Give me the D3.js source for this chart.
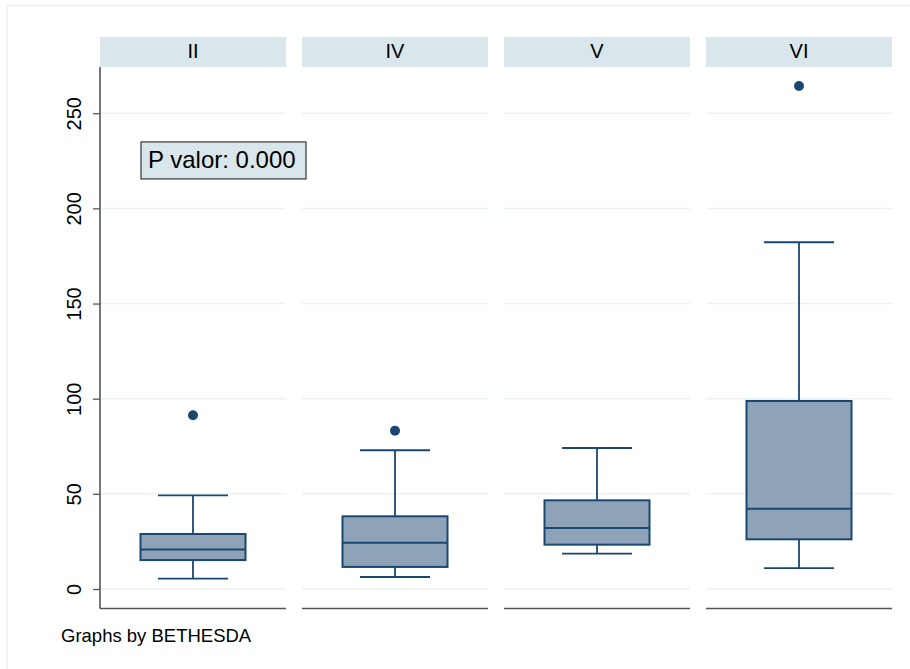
<!DOCTYPE html>
<html>
<head>
<meta charset="utf-8">
<script src="https://cdn.jsdelivr.net/npm/d3@7"></script>
<style>
  body { margin: 0; background: #ffffff; }
  text { font-family: "Liberation Sans", Arial, Helvetica, sans-serif; fill: #000000; }
</style>
</head>
<body>
<div id="vis-box"></div>
<script>
// Data --------------------------------------------------------------------------------------------------------------
const groups = ["II", "IV", "V", "VI"];
const lowerWhisker = [5.4, 6.3, 18.6, 11.0];
const quartile1 = [15.2, 11.6, 23.3, 26.1];
const medians = [20.7, 24.3, 32.1, 42.2];
const quartile3 = [28.9, 38.2, 46.6, 98.8];
const upperWhisker = [49.2, 72.9, 74.1, 182.2];
const outliers = [[91.3], [83.2], [], [264.3]];
const yTicks = [0, 50, 100, 150, 200, 250];
const pLabel = "P valor: 0.000";
const caption = "Graphs by BETHESDA";

// Canvas ------------------------------------------------------------------------------------------------------------
const canvasWidth = 910;
const canvasHeight = 669;

const plotTop = 67;
const plotBottom = 608.5;
const stripTop = 37;
const panelLeft = 100;
const panelWidth = 186;
const panelGap = 16;

const boxWidth = 105;
const capWidth = 70;

const navy = "#1a476f";
const boxFill = "#8ea3b8";
const gridColor = "#eaf2f3";
const stripColor = "#d9e6ec";

const svg = d3.select("#vis-box")
  .append("svg")
  .attr("width", canvasWidth)
  .attr("height", canvasHeight)
  .attr("viewBox", [0, 0, canvasWidth, canvasHeight]);

// Outer frame (only top and left visible)
svg.append("path")
  .attr("d", "M7,669 L7,5.5 L910,5.5")
  .attr("fill", "none")
  .attr("stroke", gridColor)
  .attr("stroke-width", 1.5);

// Scales ------------------------------------------------------------------------------------------------------------
const xPanel = d3.scaleBand()
  .domain(groups)
  .range([panelLeft, panelLeft + groups.length * panelWidth + (groups.length - 1) * panelGap])
  .paddingInner(panelGap / (panelWidth + panelGap))
  .paddingOuter(0);

const yScale = d3.scaleLinear()
  .domain([-10.25, 274.3])
  .range([plotBottom, plotTop]);

const rows = groups.map((g, i) => ({
  group: g,
  lo: lowerWhisker[i],
  q1: quartile1[i],
  med: medians[i],
  q3: quartile3[i],
  hi: upperWhisker[i],
  out: outliers[i]
}));

// Panels ------------------------------------------------------------------------------------------------------------
const panels = svg.selectAll("g.panel")
  .data(rows)
  .join("g")
  .attr("class", "panel")
  .attr("transform", d => "translate(" + xPanel(d.group) + ",0)");

// strip headers
panels.append("rect")
  .attr("x", 0)
  .attr("y", stripTop)
  .attr("width", xPanel.bandwidth())
  .attr("height", plotTop - stripTop)
  .attr("fill", stripColor);

panels.append("text")
  .attr("x", xPanel.bandwidth() / 2)
  .attr("y", 57.5)
  .attr("text-anchor", "middle")
  .style("font-size", "20px")
  .text(d => d.group);

// gridlines
panels.selectAll("line.grid")
  .data(yTicks)
  .join("line")
  .attr("class", "grid")
  .attr("x1", 0)
  .attr("x2", xPanel.bandwidth())
  .attr("y1", d => yScale(d))
  .attr("y2", d => yScale(d))
  .attr("stroke", gridColor)
  .attr("stroke-width", 1.5);

// bottom axis line per panel
panels.append("line")
  .attr("x1", 0)
  .attr("x2", xPanel.bandwidth())
  .attr("y1", plotBottom)
  .attr("y2", plotBottom)
  .attr("stroke", "#555555")
  .attr("stroke-width", 1.6);

// Boxes -------------------------------------------------------------------------------------------------------------
const cx = xPanel.bandwidth() / 2;

// whiskers
panels.append("line")
  .attr("x1", cx).attr("x2", cx)
  .attr("y1", d => yScale(d.hi))
  .attr("y2", d => yScale(d.q3))
  .attr("stroke", navy)
  .attr("stroke-width", 1.8);

panels.append("line")
  .attr("x1", cx).attr("x2", cx)
  .attr("y1", d => yScale(d.q1))
  .attr("y2", d => yScale(d.lo))
  .attr("stroke", navy)
  .attr("stroke-width", 1.8);

panels.append("line")
  .attr("x1", cx - capWidth / 2).attr("x2", cx + capWidth / 2)
  .attr("y1", d => yScale(d.hi))
  .attr("y2", d => yScale(d.hi))
  .attr("stroke", navy)
  .attr("stroke-width", 1.8);

panels.append("line")
  .attr("x1", cx - capWidth / 2).attr("x2", cx + capWidth / 2)
  .attr("y1", d => yScale(d.lo))
  .attr("y2", d => yScale(d.lo))
  .attr("stroke", navy)
  .attr("stroke-width", 1.8);

// box
panels.append("rect")
  .attr("x", cx - boxWidth / 2)
  .attr("width", boxWidth)
  .attr("y", d => yScale(d.q3))
  .attr("height", d => yScale(d.q1) - yScale(d.q3))
  .attr("fill", boxFill)
  .attr("stroke", navy)
  .attr("stroke-width", 2);

// median
panels.append("line")
  .attr("x1", cx - boxWidth / 2).attr("x2", cx + boxWidth / 2)
  .attr("y1", d => yScale(d.med))
  .attr("y2", d => yScale(d.med))
  .attr("stroke", navy)
  .attr("stroke-width", 2);

// outliers
panels.selectAll("circle.out")
  .data(d => d.out)
  .join("circle")
  .attr("class", "out")
  .attr("cx", cx)
  .attr("cy", d => yScale(d))
  .attr("r", 5)
  .attr("fill", navy);

// Y axis ------------------------------------------------------------------------------------------------------------
const yAxis = svg.append("g")
  .attr("transform", "translate(" + panelLeft + ",0)")
  .call(d3.axisLeft(yScale).tickValues(yTicks).tickSize(7).tickPadding(8).tickSizeOuter(0));

yAxis.select(".domain")
  .attr("d", "M0," + plotTop + "V" + plotBottom)
  .attr("stroke", "#555555")
  .attr("stroke-width", 1.6);

yAxis.selectAll(".tick line")
  .attr("stroke", "#555555")
  .attr("stroke-width", 1.3);

yAxis.selectAll(".tick text")
  .attr("x", null)
  .attr("dy", null)
  .attr("transform", "translate(-26.5,0) rotate(-90)")
  .attr("text-anchor", "middle")
  .attr("dominant-baseline", "central")
  .style("font-family", "'Liberation Sans', Arial, sans-serif")
  .style("font-size", "20px")
  .attr("fill", "#000000");

// Annotation --------------------------------------------------------------------------------------------------------
const pBox = svg.append("g")
  .attr("transform", "translate(" + (panelLeft + 41) + "," + yScale(225.2) + ")");

pBox.append("rect")
  .attr("x", 0)
  .attr("y", -18.5)
  .attr("width", 165)
  .attr("height", 37)
  .attr("fill", stripColor)
  .attr("stroke", "#333333")
  .attr("stroke-width", 1.2);

pBox.append("text")
  .attr("x", 7)
  .attr("y", 8)
  .style("font-size", "24px")
  .text(pLabel);

// Caption
svg.append("text")
  .attr("x", 61)
  .attr("y", 642)
  .style("font-size", "18.5px")
  .text(caption);
</script>
</body>
</html>
